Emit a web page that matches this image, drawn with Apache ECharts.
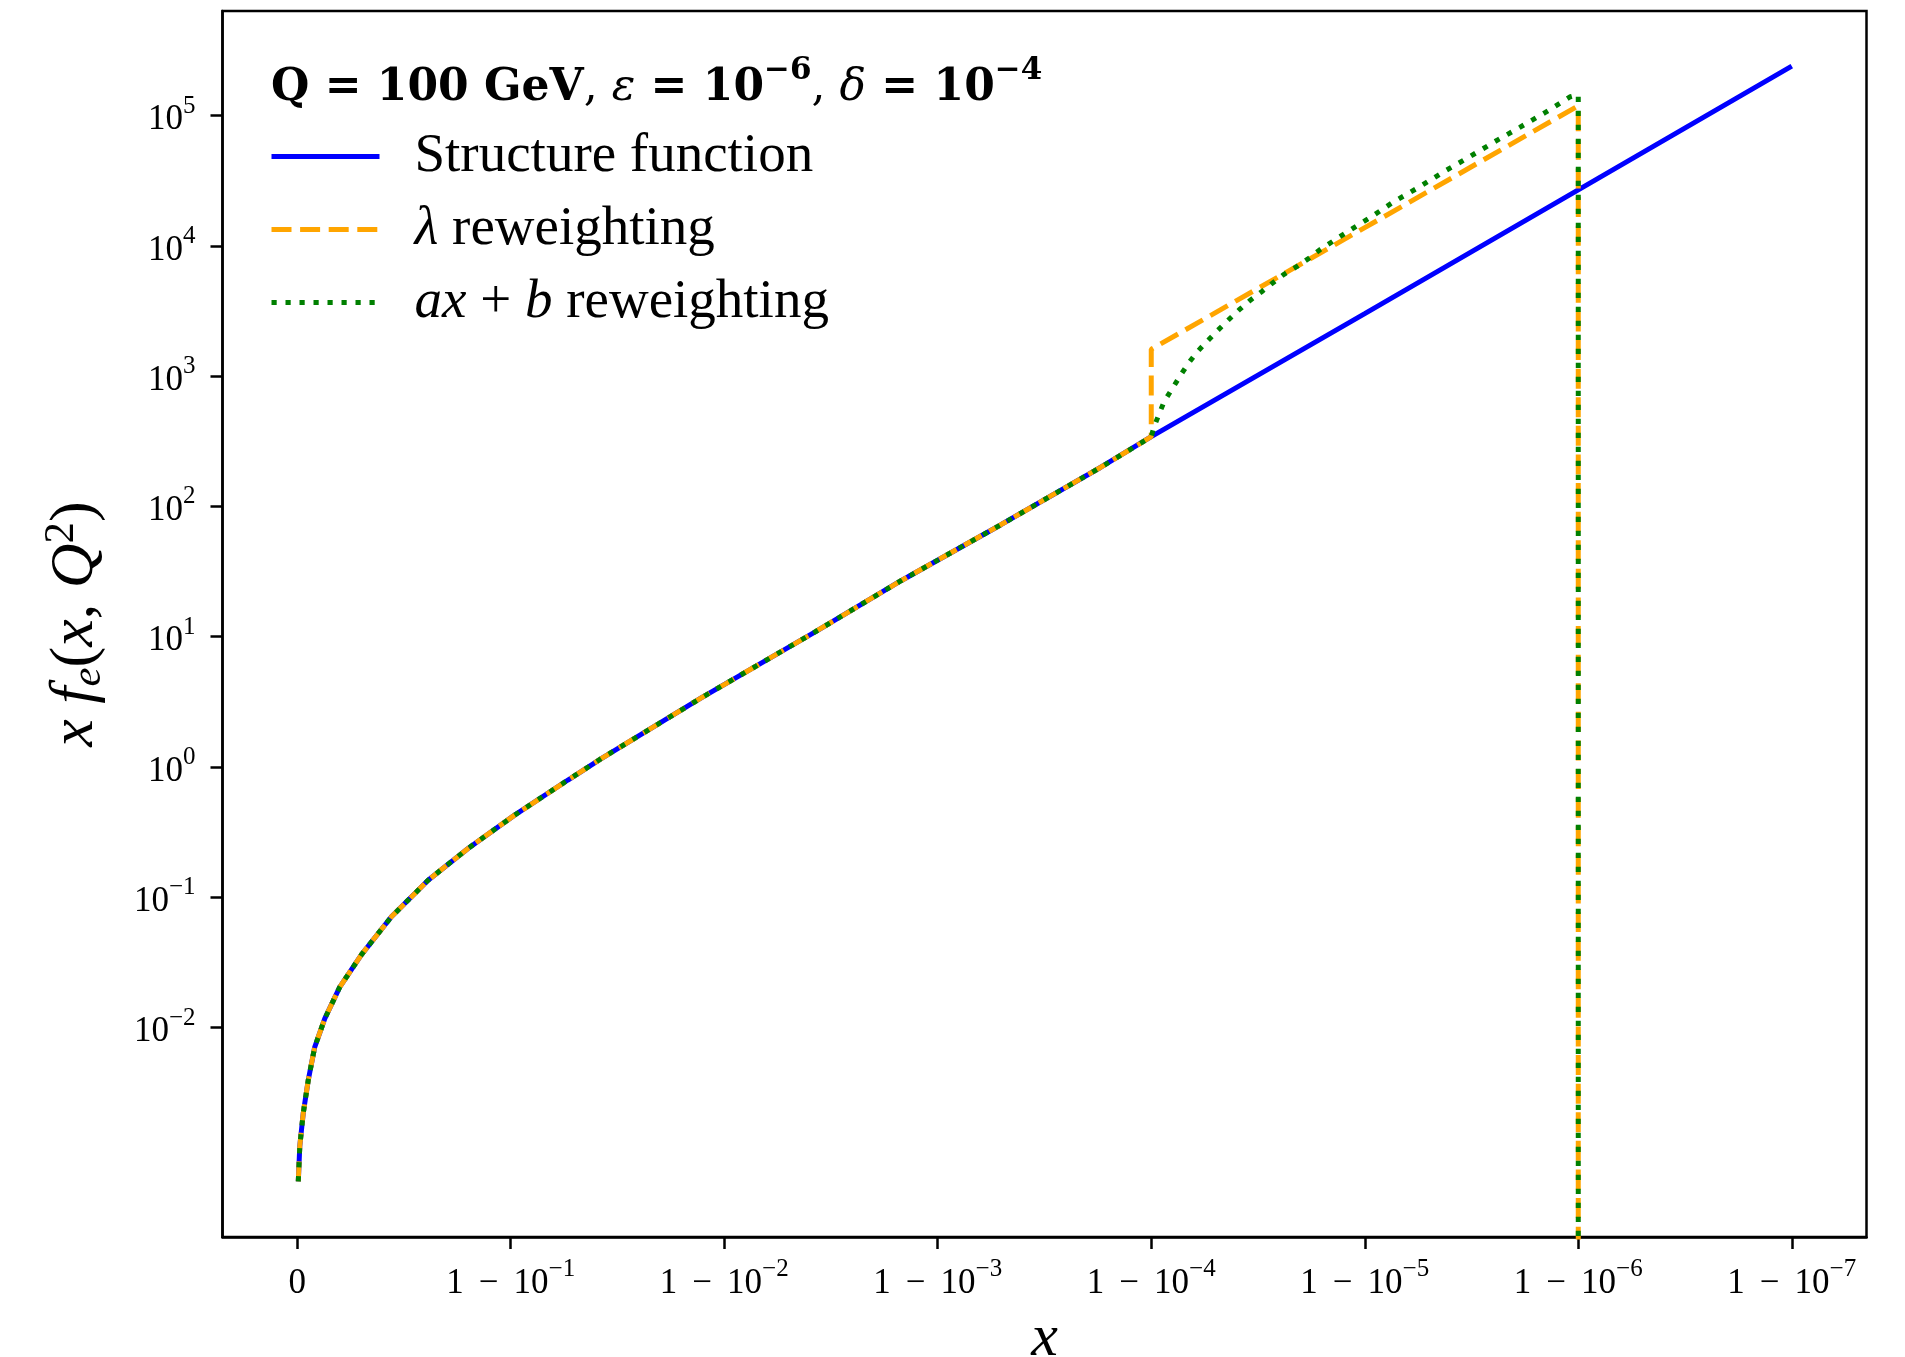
<!DOCTYPE html>
<html>
<head>
<meta charset="utf-8">
<title>Electron structure function</title>
<script src="https://cdn.jsdelivr.net/npm/echarts@6/dist/echarts.min.js"></script>
<style>
  html, body { margin: 0; padding: 0; background: #ffffff; }
  #chart { width: 1905px; height: 1357px; }
</style>
</head>
<body>
<div id="chart"></div>
<script>
// Horizontal position in decades, u = -log10(1 - x); u = 0 is x = 0, u = k is x = 1 - 10^-k
const sharedDecades = [0.005, 0.012, 0.028, 0.052, 0.082, 0.129, 0.199, 0.301, 0.441, 0.613,
                       0.800, 1.018, 1.268, 1.424, 1.892, 2.422, 2.828, 3.296, 3.764, 4.0];
// x f_e(x, Q^2) below the cut, common to all three curves
const sharedValues = [6.6e-4, 1.23e-3, 2.19e-3, 3.98e-3, 7.08e-3, 1.17e-2, 2.04e-2, 3.63e-2, 7.08e-2, 0.135,
                      0.237, 0.427, 0.794, 1.16, 3.39, 10.8, 26.9, 72.4, 200, 343];

// Structure function above the cut
const structureTailDecades = [5.0, 6.0, 7.0];
const structureTailValues = [3020, 26900, 240000];

// Value standing in for zero on the log axis (curve drops out of the frame)
const ZERO_ON_LOG = 1e-9;

// λ reweighting: jump at 1 - δ, cut off at 1 - ε
const lambdaTailDecades = [4.0, 5.0, 6.0, 6.0];
const lambdaTailValues = [1610, 13800, 119000, ZERO_ON_LOG];

// ax + b reweighting above 1 - δ, cut off at 1 - ε
const linearTailDecades = [4.013, 4.060, 4.099, 4.138, 4.174, 4.216, 4.263, 4.310, 4.361, 4.411,
                           4.461, 4.517, 4.570, 4.622, 4.681, 4.738, 4.793, 4.907, 5.024, 5.136,
                           5.253, 5.370, 5.492, 5.609, 5.726, 5.846, 5.963, 6.0, 6.0];
const linearTailValues = [409, 637, 805, 1021, 1256, 1542, 1862, 2234, 2698, 3221,
                          3793, 4446, 5212, 6053, 6918, 8017, 9419, 12470, 16440, 21830,
                          28180, 37070, 48420, 63100, 81280, 105900, 139600, 145000, ZERO_ON_LOG];

// Axis ticks
const xTickDecades = [0, 1, 2, 3, 4, 5, 6, 7];
const yTickValues = [1e-2, 1e-1, 1e0, 1e1, 1e2, 1e3, 1e4, 1e5];

const seriesNames = ['Structure function', 'λ reweighting', 'ax + b reweighting'];

function pairs(xs, ys) {
  return xs.map((u, i) => [u, ys[i]]);
}
const structureData = pairs(sharedDecades.concat(structureTailDecades), sharedValues.concat(structureTailValues));
const lambdaData = pairs(sharedDecades.concat(lambdaTailDecades), sharedValues.concat(lambdaTailValues));
const linearData = pairs(sharedDecades.concat(linearTailDecades), sharedValues.concat(linearTailValues));

const SERIF = "'Liberation Serif', 'Times New Roman', serif";
const TITLE_FONT = "'DejaVu Serif', serif";
const MINUS = '\u2212';

function supText(n) {
  return n < 0 ? MINUS + Math.abs(n) : String(n);
}

const tickRich = {
  b: { fontFamily: SERIF, fontSize: 35, color: '#000', lineHeight: 44, verticalAlign: 'bottom' },
  m: { fontFamily: SERIF, fontSize: 35, color: '#000', lineHeight: 44, verticalAlign: 'bottom', padding: [0, 15, 0, 15] },
  s: { fontFamily: SERIF, fontSize: 25, color: '#000', lineHeight: 23, verticalAlign: 'top' }
};

const legendRich = {
  n: { fontFamily: SERIF, fontSize: 55, color: '#000', lineHeight: 60 },
  i: { fontFamily: SERIF, fontSize: 55, color: '#000', lineHeight: 60, fontStyle: 'italic' }
};
const legendLabels = {
  'Structure function': '{n|Structure function}',
  'λ reweighting': '{i|λ}{n| reweighting}',
  'ax + b reweighting': '{i|ax}{n| + }{i|b}{n| reweighting}'
};

const chart = echarts.init(document.getElementById('chart'), null, { renderer: 'canvas' });

chart.setOption({
  animation: false,
  backgroundColor: '#ffffff',
  title: {
    left: 266,
    top: 50,
    text: '{bd|Q = 100 GeV}{r|, }{it|ε}{bd| = 10}{bs|' + MINUS + '6}{r|, }{it|δ}{bd| = 10}{bs|' + MINUS + '4}',
    textStyle: {
      rich: {
        bd: { fontFamily: TITLE_FONT, fontWeight: 'bold', fontSize: 44, color: '#000', lineHeight: 56, verticalAlign: 'bottom' },
        r: { fontFamily: TITLE_FONT, fontWeight: 'normal', fontSize: 44, color: '#000', lineHeight: 56, verticalAlign: 'bottom' },
        it: { fontFamily: TITLE_FONT, fontWeight: 'normal', fontStyle: 'italic', fontSize: 44, color: '#000', lineHeight: 56, verticalAlign: 'bottom' },
        bs: { fontFamily: TITLE_FONT, fontWeight: 'bold', fontSize: 31, color: '#000', lineHeight: 30, verticalAlign: 'top' }
      }
    }
  },
  legend: {
    orient: 'vertical',
    left: 264,
    top: 124,
    itemWidth: 108,
    itemHeight: 20,
    itemGap: 18,
    data: seriesNames,
    selectedMode: false,
    formatter: name => legendLabels[name],
    itemStyle: { color: 'rgba(0,0,0,0)', opacity: 0, borderWidth: 0 },
    lineStyle: { width: 5 },
    textStyle: { fontFamily: SERIF, fontSize: 55, color: '#000', padding: [0, 0, 0, 30], rich: legendRich }
  },
  grid: {
    left: 222.5,
    right: 38.5,
    top: 11,
    bottom: 120,
    show: true,
    borderColor: '#000',
    borderWidth: 2.5,
    backgroundColor: 'transparent',
    containLabel: false,
    outerBoundsMode: 'none'
  },
  xAxis: {
    type: 'value',
    min: -0.35,
    max: 7.35,
    axisLine: { show: true, onZero: false, lineStyle: { color: '#000', width: 2.5 } },
    axisTick: { show: true, inside: false, length: 12, lineStyle: { color: '#000', width: 2.5 }, customValues: xTickDecades },
    axisLabel: {
      customValues: xTickDecades,
      margin: 20,
      formatter: v => (v === 0 ? '{b|0}' : '{b|1}{m|' + MINUS + '}{b|10}{s|' + supText(-v) + '}'),
      rich: tickRich
    },
    splitLine: { show: false },
    name: 'x',
    nameLocation: 'middle',
    nameGap: 72,
    nameTextStyle: { fontFamily: SERIF, fontStyle: 'italic', fontSize: 60, color: '#000' }
  },
  yAxis: {
    type: 'log',
    logBase: 10,
    min: Math.pow(10, -3.608),
    max: Math.pow(10, 5.803),
    axisLine: { show: true, onZero: false, lineStyle: { color: '#000', width: 2.5 } },
    axisTick: { show: true, inside: false, length: 12, lineStyle: { color: '#000', width: 2.5 }, customValues: yTickValues },
    minorTick: { show: false },
    axisLabel: {
      customValues: yTickValues,
      margin: 27,
      formatter: v => '{b|10}{s|' + supText(Math.round(Math.log10(v))) + '}',
      rich: tickRich
    },
    splitLine: { show: false },
    name: '{i|x f}{sub|e}{n|(}{i|x}{n|, }{i|Q}{sup|2}{n|)}',
    nameLocation: 'middle',
    nameRotate: 90,
    nameGap: 112,
    nameTextStyle: {
      rich: {
        i: { fontFamily: SERIF, fontStyle: 'italic', fontSize: 62, color: '#000', lineHeight: 70, verticalAlign: 'middle' },
        n: { fontFamily: SERIF, fontSize: 62, color: '#000', lineHeight: 70, verticalAlign: 'middle' },
        sub: { fontFamily: SERIF, fontStyle: 'italic', fontSize: 43, color: '#000', lineHeight: 40, verticalAlign: 'bottom' },
        sup: { fontFamily: SERIF, fontSize: 43, color: '#000', lineHeight: 46, verticalAlign: 'top' }
      }
    }
  },
  series: [
    {
      name: seriesNames[0],
      type: 'line',
      data: structureData,
      symbol: 'none',
      showSymbol: false,
      clip: true,
      z: 2,
      lineStyle: { color: '#0000ff', width: 5, type: 'solid' },
      itemStyle: { color: '#0000ff' }
    },
    {
      name: seriesNames[1],
      type: 'line',
      data: lambdaData,
      symbol: 'none',
      showSymbol: false,
      clip: true,
      z: 3,
      lineStyle: { color: '#ffa500', width: 5, type: [20, 8.6], cap: 'butt' },
      itemStyle: { color: '#ffa500' }
    },
    {
      name: seriesNames[2],
      type: 'line',
      data: linearData,
      symbol: 'none',
      showSymbol: false,
      clip: true,
      z: 4,
      lineStyle: { color: '#008000', width: 5, type: [5.2, 8.8], cap: 'butt' },
      itemStyle: { color: '#008000' }
    }
  ]
});
</script>
</body>
</html>
